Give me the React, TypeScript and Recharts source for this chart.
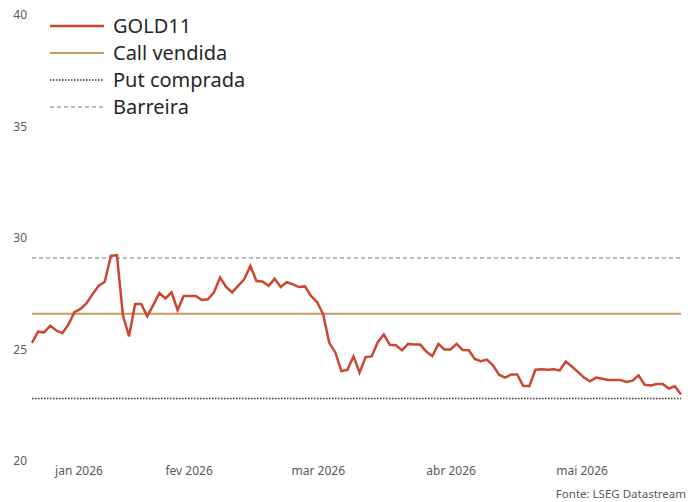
import { LineChart, Line, XAxis, YAxis, ReferenceLine } from "recharts";

// ── Data ──────────────────────────────────────────────────────────────────────

// GOLD11 daily closes (one value per trading day)
const gold11 = [
  25.30, 25.80, 25.77, 26.07, 25.85, 25.73, 26.12, 26.67, 26.82, 27.08,
  27.49, 27.86, 28.04, 29.20, 29.23, 26.52, 25.59, 27.04, 27.04, 26.49,
  27.00, 27.53, 27.29, 27.56, 26.77, 27.40, 27.40, 27.40, 27.22, 27.25,
  27.56, 28.23, 27.81, 27.56, 27.86, 28.16, 28.75, 28.07, 28.05, 27.86,
  28.17, 27.80, 28.02, 27.92, 27.80, 27.83, 27.40, 27.13, 26.59, 25.30,
  24.88, 24.03, 24.09, 24.69, 23.97, 24.66, 24.69, 25.33, 25.67, 25.21,
  25.19, 24.96, 25.25, 25.22, 25.22, 24.91, 24.70, 25.25, 25.00, 25.00,
  25.25, 24.98, 24.97, 24.58, 24.48, 24.55, 24.29, 23.87, 23.74, 23.88,
  23.88, 23.36, 23.36, 24.09, 24.11, 24.09, 24.11, 24.06, 24.46, 24.24,
  24.00, 23.74, 23.57, 23.74, 23.69, 23.63, 23.63, 23.63, 23.54, 23.60,
  23.84, 23.42, 23.39, 23.45, 23.45, 23.25, 23.35, 22.98,
];

// Option levels (horizontal lines)
const callVendida = 26.6;
const putComprada = 22.8;
const barreira = 29.1;

// Month labels sit at the middle of each month's visible span (trading-day index)
const monthTicks = [7.75, 25.9, 47.2, 69.1, 90.7];
const monthLabels = ["jan 2026", "fev 2026", "mar 2026", "abr 2026", "mai 2026"];

const yTicks = [20, 25, 30, 35, 40];

// ── Styles ────────────────────────────────────────────────────────────────────

const FONT = "'Noto Sans', 'Open Sans', sans-serif";
const GOLD_COLOR = "#cc4630";
const CALL_COLOR = "#c49a5f";
const PUT_COLOR = "#333333";
const BARRIER_COLOR = "#a6a6a6";
const TICK_COLOR = "#595959";

const legendItems = [
  { name: "GOLD11", color: GOLD_COLOR, width: 2.5, dash: undefined },
  { name: "Call vendida", color: CALL_COLOR, width: 2, dash: undefined },
  { name: "Put comprada", color: PUT_COLOR, width: 1.5, dash: "1.5 1.5" },
  { name: "Barreira", color: BARRIER_COLOR, width: 1.5, dash: "4 3" },
];

const data = gold11.map((v, i) => ({ i, gold: v }));

export default function App() {
  return (
    <div
      style={{
        position: "absolute",
        left: 0,
        top: 0,
        width: 688,
        height: 502,
        background: "#fff",
        overflow: "hidden",
        fontFamily: FONT,
      }}
    >
      <LineChart
        width={688}
        height={502}
        data={data}
        margin={{ top: 15, right: 7, left: 0, bottom: 11 }}
      >
        <XAxis
          dataKey="i"
          type="number"
          domain={[0, gold11.length - 1]}
          ticks={monthTicks}
          tickFormatter={(v: number) => monthLabels[monthTicks.indexOf(v)] ?? ""}
          axisLine={false}
          tickLine={false}
          tickSize={0}
          tickMargin={5}
          interval={0}
          height={30}
          tick={{ fontSize: 12, fill: TICK_COLOR, fontFamily: FONT }}
        />
        <YAxis
          domain={[20, 40]}
          ticks={yTicks}
          axisLine={false}
          tickLine={false}
          tickSize={0}
          tickMargin={5}
          width={32}
          tick={{ fontSize: 12, fill: TICK_COLOR, fontFamily: FONT }}
        />
        <ReferenceLine y={barreira} stroke={BARRIER_COLOR} strokeWidth={1.5} strokeDasharray="4 3" />
        <ReferenceLine y={callVendida} stroke={CALL_COLOR} strokeWidth={2} />
        <ReferenceLine y={putComprada} stroke={PUT_COLOR} strokeWidth={1.5} strokeDasharray="1.5 1.5" />
        <Line
          type="linear"
          dataKey="gold"
          stroke={GOLD_COLOR}
          strokeWidth={2.5}
          dot={false}
          isAnimationActive={false}
        />
      </LineChart>

      {/* Legend */}
      <div style={{ position: "absolute", left: 50, top: 12 }}>
        {legendItems.map((item) => (
          <div
            key={item.name}
            style={{ display: "flex", alignItems: "center", height: 27 }}
          >
            <svg width={54} height={10} style={{ marginRight: 9 }}>
              <line
                x1={0}
                x2={54}
                y1={5}
                y2={5}
                stroke={item.color}
                strokeWidth={item.width}
                strokeDasharray={item.dash}
              />
            </svg>
            <span style={{ fontSize: 20, color: "#262626", lineHeight: "27px" }}>
              {item.name}
            </span>
          </div>
        ))}
      </div>

      <div
        style={{
          position: "absolute",
          right: 2,
          top: 486,
          fontSize: 11.5,
          color: TICK_COLOR,
          whiteSpace: "nowrap",
        }}
      >
        Fonte: LSEG Datastream
      </div>
    </div>
  );
}
